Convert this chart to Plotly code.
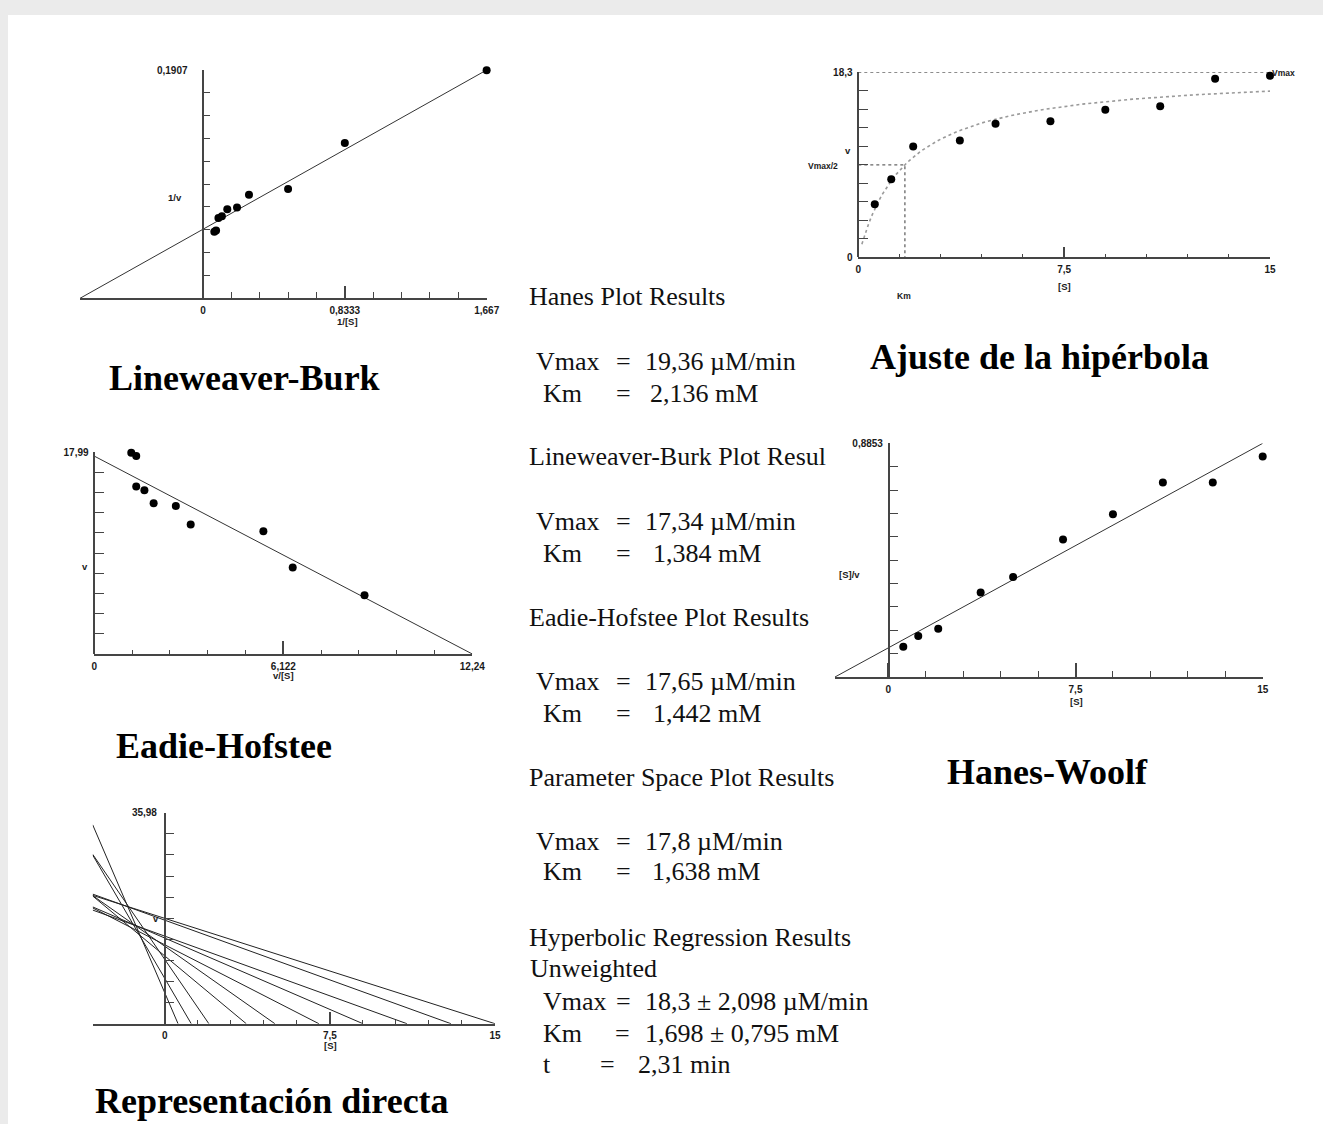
import plotly.graph_objects as go
import numpy as np

W, H = 1323, 1124

# ---------------- data ----------------
S = [0.6, 1.2, 2.0, 3.7, 5.0, 7.0, 9.0, 11.0, 13.0, 15.0]          # [S] (mM)
v = [5.25, 7.71, 10.95, 11.55, 13.2, 13.45, 14.6, 14.93, 17.65, 17.96]  # v (uM/min)

hanes_vmax, hanes_km = 19.36, 2.136
lb_vmax, lb_km = 17.34, 1.384
eh_vmax, eh_km = 17.65, 1.442
ps_vmax, ps_km = 17.8, 1.638
hyp_vmax, hyp_km = 18.3, 1.698

# tick values / labels
lb_xt, lb_xl = [0, 0.8333, 1.667], ['0', '0,8333', '1,667']
lb_yt, lb_yl = [0.09535, 0.1907], ['', '0,1907']
hy_xt, hy_xl = [0, 7.5, 15], ['0', '7,5', '15']
hy_yt, hy_yl = [0, 9.15, 18.3], ['0', '', '18,3']
eh_xt, eh_xl = [0, 6.122, 12.24], ['0', '6,122', '12,24']
eh_yt, eh_yl = [8.995, 17.99], ['', '17,99']
hw_xt, hw_xl = [0, 7.5, 15], ['0', '7,5', '15']
hw_yt, hw_yl = [0.44265, 0.8853], ['', '0,8853']
dr_xt, dr_xl = [0, 7.5, 15], ['0', '7,5', '15']
dr_yt, dr_yl = [17.99, 35.98], ['', '35,98']

AX = '#454545'
TF = dict(family='Liberation Sans, Arial, sans-serif', size=10, color='#1a1a1a', weight='bold')
SERIF = 'Liberation Serif, Times New Roman, serif'

fig = go.Figure()


def minor_vals(lo, hi, n=10):
    return [lo + (hi - lo) * i / n for i in range(n + 1)]


def add_axes(n, xr, yr, px_l, px_r, py_t, py_b, x0_px,
             xt, xl, yt, yl, xminor, yminor,
             xmaj, xmin_len, ymaj, ymin_len, ystand=3, xstand=2):
    xa = 'xaxis' if n == 1 else f'xaxis{n}'
    ya = 'yaxis' if n == 1 else f'yaxis{n}'
    yref = 'y' if n == 1 else f'y{n}'
    fig.layout[xa] = dict(
        domain=[px_l / W, px_r / W], range=xr, anchor=yref, automargin=False,
        showline=True, linecolor=AX, linewidth=1.5, showgrid=False, zeroline=False,
        ticks='inside', ticklen=xmaj, tickwidth=1.5, tickcolor=AX,
        tickmode='array', tickvals=xt, ticktext=xl, tickfont=TF,
        ticklabelstandoff=xstand,
        minor=dict(ticks='inside', ticklen=xmin_len, tickwidth=1.2, tickcolor=AX,
                   tickmode='array', tickvals=xminor, showgrid=False),
        fixedrange=True)
    fig.layout[ya] = dict(
        domain=[1 - py_b / H, 1 - py_t / H], range=yr, anchor='free',
        position=x0_px / W, automargin=False,
        showline=True, linecolor=AX, linewidth=1.5, showgrid=False, zeroline=False,
        ticks='inside', ticklen=ymaj, tickwidth=1.5, tickcolor=AX,
        tickmode='array', tickvals=yt, ticktext=yl, tickfont=TF,
        ticklabelstandoff=ystand,
        minor=dict(ticks='inside', ticklen=ymin_len, tickwidth=1.2, tickcolor=AX,
                   tickmode='array', tickvals=yminor, showgrid=False),
        fixedrange=True)
    return ('x' if n == 1 else f'x{n}'), yref


def pts(xs, ys, xr, yr):
    fig.add_trace(go.Scatter(x=xs, y=ys, mode='markers', xaxis=xr, yaxis=yr,
                             marker=dict(size=8, color='black'), cliponaxis=False,
                             showlegend=False, hoverinfo='skip'))


def line(xs, ys, xr, yr, color='#333333', width=1, dash='solid'):
    fig.add_trace(go.Scatter(x=xs, y=ys, mode='lines', xaxis=xr, yaxis=yr,
                             line=dict(color=color, width=width, dash=dash),
                             cliponaxis=False, showlegend=False, hoverinfo='skip'))


# ---------- 1: Lineweaver-Burk ----------
lb_xmin = -1 / lb_km
x1, y1 = add_axes(1, [lb_xmin, 1.667], [0, 0.1907], 80, 486.7, 70, 298.3, 203.3,
                  lb_xt, lb_xl, lb_yt, lb_yl,
                  minor_vals(0, 1.667), minor_vals(0, 0.1907),
                  13, 7, 12, 6, ystand=13)
invS = [1 / s for s in S]
invv = [1 / q for q in v]
lbx = [lb_xmin, 1.667]
line(lbx, [1 / lb_vmax + lb_km / lb_vmax * x for x in lbx], x1, y1)
pts(invS, invv, x1, y1)

# ---------- 2: hyperbola ----------
x2, y2 = add_axes(2, [0, 15], [0, 18.3], 858.3, 1270, 72.3, 257.3, 858.3,
                  hy_xt, hy_xl, hy_yt, hy_yl,
                  minor_vals(0, 15), minor_vals(0, 18.3),
                  11, 4, 18, 9, ystand=3)
sc = np.linspace(0.13, 15, 120)
line(list(sc), list(hyp_vmax * sc / (hyp_km + sc)), x2, y2, color='#9a9a9a', width=1.6, dash='dot')
line([0, 15], [hyp_vmax, hyp_vmax], x2, y2, color='#666666', width=1.3, dash='dot')
line([0, hyp_km, hyp_km], [hyp_vmax / 2, hyp_vmax / 2, 0], x2, y2, color='#666666', width=1.3, dash='dot')
pts(S, v, x2, y2)

# ---------- 3: Eadie-Hofstee ----------
x3, y3 = add_axes(3, [0, 12.24], [0, 17.99], 94.3, 472.3, 452.3, 654, 94.3,
                  eh_xt, eh_xl, eh_yt, eh_yl,
                  minor_vals(0, 12.24), minor_vals(0, 17.99),
                  13, 4, 18, 9, ystand=3)
line([0, eh_vmax / eh_km], [eh_vmax, 0], x3, y3)
pts([q / s for q, s in zip(v, S)], v, x3, y3)

# ---------- 4: Hanes-Woolf ----------
x4, y4 = add_axes(4, [-hanes_km, 15], [0, 0.8853], 835, 1262.7, 443.3, 677, 888.7,
                  hw_xt, hw_xl, hw_yt, hw_yl,
                  minor_vals(0, 15), minor_vals(0, 0.8853),
                  14, 6, 18, 9, ystand=3)
hwx = [-hanes_km, 15]
line(hwx, [(hanes_km + x) / hanes_vmax for x in hwx], x4, y4)
pts(S, [s / q for s, q in zip(S, v)], x4, y4)

# ---------- 5: direct linear plot ----------
dr_xmin = -2 * ps_km
x5, y5 = add_axes(5, [dr_xmin, 15], [0, 35.98], 92.7, 495, 812.7, 1023.7, 164.7,
                  dr_xt, dr_xl, dr_yt, dr_yl,
                  minor_vals(0, 15), minor_vals(0, 35.98),
                  12, 4, 19, 9, ystand=5)
for s, q in zip(S, v):
    line([dr_xmin, s], [q * (1 - dr_xmin / s), 0], x5, y5, color='#222222', width=1)

# ---------- annotations ----------
ann = []


def txt(t, px, py, size=9.5, family='Liberation Sans, Arial, sans-serif', bold=True,
        xanchor='center', color='#1a1a1a'):
    ann.append(dict(text=t, x=px / W, y=1 - py / H, xref='paper', yref='paper',
                    xanchor=xanchor, yanchor='middle', showarrow=False,
                    font=dict(family=family, size=size, color=color,
                              weight='bold' if bold else 'normal')))


# small axis labels
txt('1/v', 175, 197)
txt('1/[S]', 348, 321)
txt('v', 848, 151)
txt('Vmax/2', 823, 166, size=8.5)
txt('[S]', 1064, 287)
txt('Km', 904, 296, size=8.5)
txt('Vmax', 1283, 73, size=8.5)
txt('v', 85, 566)
txt('v/[S]', 283, 675)
txt('[S]/v', 849, 574)
txt('[S]', 1076, 701)
txt('v', 156, 918)
txt('[S]', 330, 1045)

# panel titles
for t, px, py in [('Lineweaver-Burk', 244, 378), ('Ajuste de la hipérbola', 1039, 357),
                  ('Eadie-Hofstee', 224, 746), ('Hanes-Woolf', 1047, 772),
                  ('Representación directa', 272, 1101)]:
    txt(t, px, py, size=36, family=SERIF, bold=True, color='black')

# results text
headers = [('Hanes Plot Results', 527, 296), ('Lineweaver-Burk Plot Resul', 527, 457),
           ('Eadie-Hofstee Plot Results', 527, 617), ('Parameter Space Plot Results', 527, 777),
           ('Hyperbolic Regression Results', 527, 937), ('Unweighted', 528, 968)]
for t, px, py in headers:
    txt(t, px, py, size=26, family=SERIF, bold=False, xanchor='left', color='#111111')

rows = [('Vmax', 534, 623, f'{hanes_vmax:.2f}'.replace('.', ',') + ' µM/min', 643, 361),
        ('Km', 541, 623, f'{hanes_km:.3f}'.replace('.', ',') + ' mM', 648, 393),
        ('Vmax', 534, 623, f'{lb_vmax:.2f}'.replace('.', ',') + ' µM/min', 643, 521),
        ('Km', 541, 623, f'{lb_km:.3f}'.replace('.', ',') + ' mM', 651, 553),
        ('Vmax', 534, 623, f'{eh_vmax:.2f}'.replace('.', ',') + ' µM/min', 643, 681),
        ('Km', 541, 623, f'{eh_km:.3f}'.replace('.', ',') + ' mM', 651, 713),
        ('Vmax', 534, 623, '17,8 µM/min', 643, 841),
        ('Km', 541, 623, f'{ps_km:.3f}'.replace('.', ',') + ' mM', 650, 872),
        ('Vmax', 541, 623, '18,3 ± 2,098 µM/min', 643, 1001),
        ('Km', 541, 622, '1,698 ± 0,795 mM', 643, 1033),
        ('t', 541, 607, '2,31 min', 636, 1064)]
for k, kx, ex, val, vx, py in rows:
    txt(k, kx, py, size=26, family=SERIF, bold=False, xanchor='left', color='#111111')
    txt('=', ex, py, size=26, family=SERIF, bold=False, color='#111111')
    txt(val, vx, py, size=26, family=SERIF, bold=False, xanchor='left', color='#111111')

fig.update_layout(
    width=W, height=H, autosize=False,
    margin=dict(l=0, r=0, t=0, b=0, pad=0, autoexpand=False),
    paper_bgcolor='#ebebeb', plot_bgcolor='rgba(0,0,0,0)',
    showlegend=False, annotations=ann,
    shapes=[dict(type='rect', xref='paper', yref='paper', x0=8 / W, x1=1, y0=0, y1=1 - 15 / H,
                 fillcolor='white', line=dict(width=0), layer='below')])

fig.write_html('out.html', config={'displayModeBar': False, 'responsive': False},
               post_script="document.body.style.margin='0';document.body.style.padding='0';"
                           "document.body.style.overflow='hidden';")
